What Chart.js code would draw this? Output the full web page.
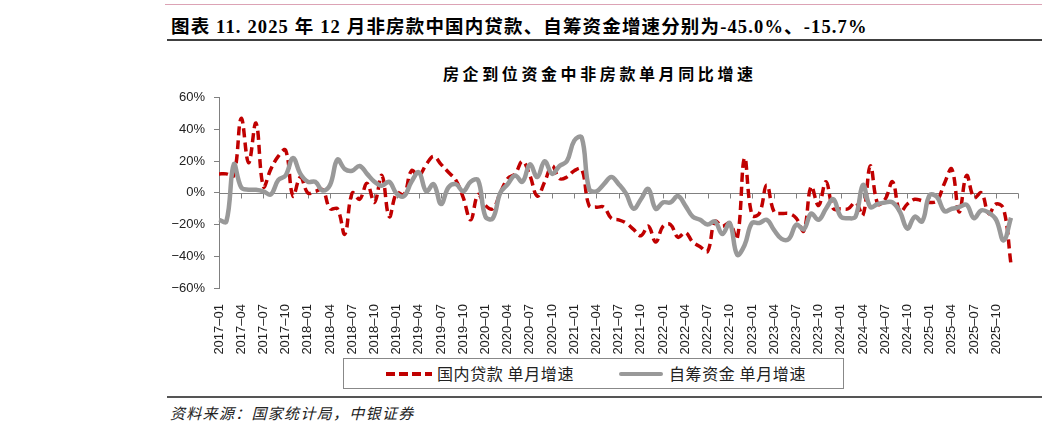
<!DOCTYPE html>
<html lang="zh-CN">
<head>
<meta charset="utf-8">
<title>房企到位资金中非房款单月同比增速</title>
<script src="https://cdn.jsdelivr.net/npm/chart.js@4.4.1/dist/chart.umd.min.js"></script>
<style>
  html, body { margin: 0; padding: 0; background: #fff; }
  body { width: 1042px; height: 424px; position: relative; overflow: hidden; font-family: "Noto Sans CJK SC", sans-serif; color: #000; }
  .topLine { position: absolute; left: 165px; right: 0; top: 4px; height: 1px; background: #dca3b5; }
  .header { position: absolute; left: 171px; top: 12px; font: bold 18.5px "Liberation Serif", "Noto Sans CJK SC", serif; letter-spacing: 1.15px; white-space: nowrap; }
  .headerRule { position: absolute; left: 167px; right: 0; top: 39px; height: 2px; background: #404040; }
  .chartTitle { position: absolute; left: 443px; top: 61px; font: bold 16px "Noto Sans CJK SC", sans-serif; letter-spacing: 3.6px; white-space: nowrap; }
  #wrap { position: absolute; left: 160px; top: 81px; width: 882px; height: 275px; }
  .legendBox { position: absolute; left: 343px; top: 358px; width: 499px; height: 29px; border: 1px solid #888; }
  .legendBox .sample { position: absolute; top: 13px; height: 4px; }
  .legendBox .red { left: 42px; width: 46px; background: repeating-linear-gradient(to right, #c00000 0 9px, transparent 9px 13px); height: 3.5px; }
  .legendBox .gray { left: 275px; width: 44px; background: #999; border-radius: 2px; }
  .legendBox .txt { position: absolute; top: 3px; font-size: 16px; line-height: 22px; letter-spacing: 0.6px; color: #222; white-space: nowrap; }
  .bottomRule { position: absolute; left: 167px; right: 0; top: 396px; height: 2px; background: #555; }
  .source { position: absolute; left: 170px; top: 402px; font-size: 15px; letter-spacing: 1.3px; font-style: italic; color: #222; white-space: nowrap; }
</style>
</head>
<body>
<div class="topLine"></div>
<div class="header">图表 11. 2025 年 12 月非房款中国内贷款、自筹资金增速分别为-45.0%、-15.7%</div>
<div class="headerRule"></div>
<div class="chartTitle">房企到位资金中非房款单月同比增速</div>
<div id="wrap"><canvas id="myChart" width="882" height="275"></canvas></div>
<div class="legendBox">
  <div class="sample red"></div>
  <div class="txt" style="left:93px">国内贷款 单月增速</div>
  <div class="sample gray"></div>
  <div class="txt" style="left:325px">自筹资金 单月增速</div>
</div>
<div class="bottomRule"></div>
<div class="source">资料来源：国家统计局，中银证券</div>

<script>
// months 2017-01 .. 2025-12
const months = [];
for (let y = 2017; y <= 2025; y++) {
  for (let m = 1; m <= 12; m++) {
    months.push(y + "-" + String(m).padStart(2, "0"));
  }
}
// extra empty slot so the axis runs to 2026-01 like the original
const xLabels = months.concat([""]);

// 国内贷款 单月增速 (%)
const domesticLoan = [
  12, 12, 11, 47, 19, 44, 4, 15, 23, 27, -2, 10,
  0, 1, 2, -10, -10, -26, 0, -4, 6, -6, 11, -15,
  0, -1, 14, 11, 18, 23, 18, 13, 8, -3, -17, -1,
  -8, -10, 0, 9, 12, 20, 11, -2, 7, 17, 9, 10,
  14, 15, -8, -9, -9, -16, -17, -19, -23, -27, -21, -31,
  -21, -20, -28, -25, -31, -34, -37, -18, -21, -19, -29, 22,
  -14, -13, 5, -12, -13, -13, -16, -24, 4, -8, 7, -10,
  -10, -10, -6, -14, 17, -7, -4, 7, -12, -7, -4, -5,
  -6, -5, 6, 15, -12, 11, -3, 0, -13, -7, -10, -45.0
];

// 自筹资金 单月增速 (%)
const selfRaised = [
  -17, -18, 18, 3.5, 2, 2, 1, -1, 8, 11, 22, 12,
  7, 7, 1.5, 5, 21, 15, 14, 17, 12, 7, 4.5, 7,
  -0.5, -2, 7, 13, 1, 5.5, -7, 3.5, 5.5, 1, 7, 8,
  -15, -16, 0, 5.5, 11, 7, 18, 10, 20, 12, 17, 20,
  33, 35, 2.5, 1, 5.5, 10, 5.5, -0.5, -10, -4, 2.5, -10,
  -6, -6, -2, -8, -15, -17, -20, -18, -26, -19, -39, -33,
  -19, -19, -17, -23.5, -29, -29, -20, -23, -13, -17, -10, -4,
  -15, -16, -15, 5, -9, -7, -6, -6, -12, -22.5, -15, -18,
  -1.5, -2.5, -11.5, -10, -9, -7.5, -16, -11, -12.5, -17, -30, -15.7
];

const yTicks = [-60, -40, -20, 0, 20, 40, 60];

// zero line with small tick marks hanging below it
const zeroAxis = {
  id: "zeroAxis",
  beforeDatasetsDraw(chart) {
    const { ctx, chartArea, scales } = chart;
    const y0 = Math.round(scales.y.getPixelForValue(0)) + 0.5;
    ctx.save();
    ctx.strokeStyle = "#808080";
    ctx.lineWidth = 1;
    ctx.beginPath();
    ctx.moveTo(chartArea.left, y0);
    ctx.lineTo(chartArea.right, y0);
    for (let i = 0; i < xLabels.length; i += 3) {
      const x = Math.round(scales.x.getPixelForValue(i)) + 0.5;
      ctx.moveTo(x, y0);
      ctx.lineTo(x, y0 + 5);
    }
    ctx.stroke();
    ctx.restore();
  },
};

const ctx = document.getElementById("myChart").getContext("2d");
const myChart = new Chart(ctx, {
  type: "line",
  data: {
    labels: xLabels,
    datasets: [
      {
        label: "国内贷款 单月增速",
        data: domesticLoan,
        borderColor: "#c00000",
        borderWidth: 3.5,
        borderDash: [9, 5],
        pointRadius: 0,
        tension: 0.4,
        order: 1,
      },
      {
        label: "自筹资金 单月增速",
        data: selfRaised,
        borderColor: "#999999",
        borderWidth: 4.5,
        pointRadius: 0,
        tension: 0.4,
        order: 0,
      },
    ],
  },
  options: {
    responsive: false,
    animation: false,
    layout: { padding: { left: 0, right: 0, top: 8, bottom: 0 } },
    plugins: {
      legend: { display: false },
      tooltip: { enabled: false },
    },
    scales: {
      x: {
        offset: false,
        grid: { display: false },
        border: { display: false },
        afterFit: (scale) => { scale.height = 68; },
        ticks: {
          autoSkip: false,
          minRotation: 90,
          maxRotation: 90,
          padding: 8,
          color: "#222",
          font: { family: "Liberation Sans", size: 13 },
          callback: function (val, idx) {
            if (idx % 3 !== 0) return null;
            return xLabels[idx].replace("-", "–");
          },
        },
      },
      y: {
        min: -60,
        max: 60,
        afterFit: (scale) => { scale.width = 59; },
        afterBuildTicks: (scale) => { scale.ticks = yTicks.map((v) => ({ value: v })); },
        grid: { drawOnChartArea: false, drawTicks: true, tickLength: 5, color: "#808080" },
        border: { display: true, color: "#808080", width: 1 },
        ticks: {
          padding: 9,
          color: "#222",
          font: { family: "Liberation Sans", size: 13 },
          callback: (v) => (v < 0 ? "−" : "") + Math.abs(v) + "%",
        },
      },
    },
  },
  plugins: [zeroAxis],
});
</script>
</body>
</html>
